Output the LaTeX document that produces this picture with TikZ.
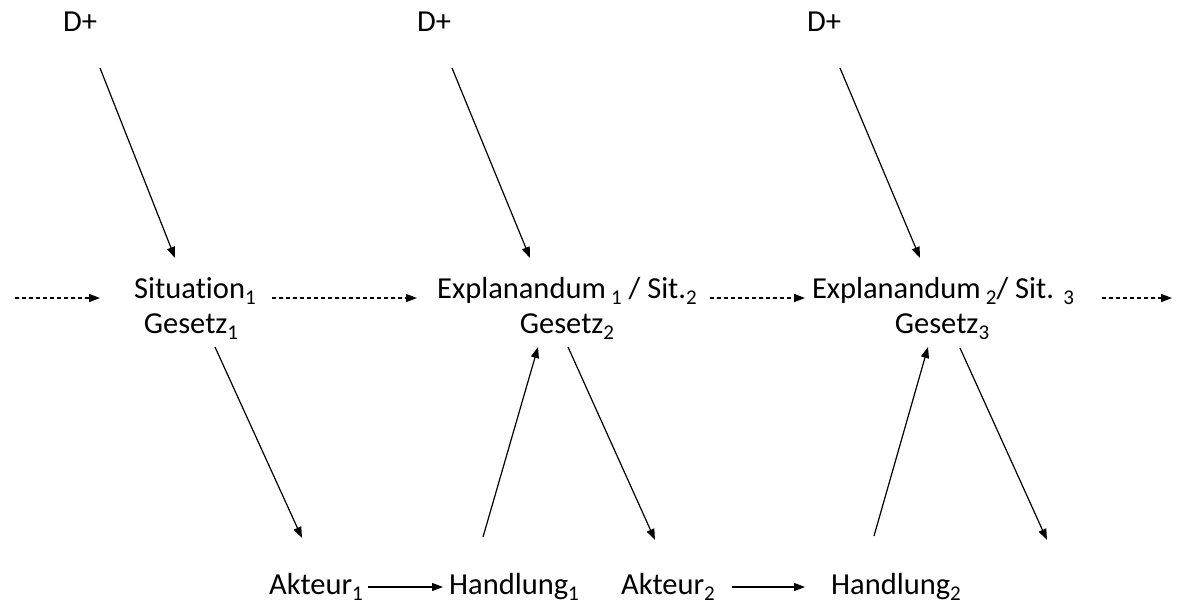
\documentclass[tikz,border=0pt]{standalone}
\usepackage{fontspec}
\setmainfont{Carlito}[Ligatures=NoCommon]
\usetikzlibrary{arrows.meta}
% lowered index digit
\newcommand\idx[1]{\raisebox{-0.2em}{\fontsize{21}{21}\selectfont #1}}
\begin{document}
\begin{tikzpicture}[x=1pt,y=-1pt,
  every node/.style={font=\fontsize{30.5}{36}\selectfont, inner sep=0pt, anchor=base},
  arr/.style={-{Triangle[length=11pt,width=8pt]}, line width=1.2pt},
  dasharr/.style={arr, dash pattern=on 4pt off 3pt}]
\useasboundingbox (0,0) rectangle (1177,608);

% labels
\node (dp1) at (80,31) {D+};
\node (dp2) at (434,31) {D+};
\node (dp3) at (824,31) {D+};
\node (sit1) at (195,298) {Situation\idx{1}};
\node (gz1) at (191,333) {Gesetz\idx{1}};
\node (ex1) at (567,298) {Explanandum\,\idx{1} / Sit.\idx{2}};
\node (gz2) at (567,333) {Gesetz\idx{2}};
\node (ex2) at (943,298) {Explanandum\,\idx{2}/ Sit. \idx{3}};
\node (gz3) at (942,333) {Gesetz\idx{3}};
\node (ak1) at (316,594) {Akteur\idx{1}};
\node (hd1) at (514,594) {Handlung\idx{1}};
\node (ak2) at (668,594) {Akteur\idx{2}};
\node (hd2) at (896,594) {Handlung\idx{2}};

% connector end points
\coordinate (p1s) at (100,68);  \coordinate (p1e) at (175,258);
\coordinate (p2s) at (452,68);  \coordinate (p2e) at (530,258);
\coordinate (p3s) at (840,68);  \coordinate (p3e) at (920,258);
\coordinate (g1s) at (215,347); \coordinate (g1e) at (302,538);
\coordinate (g2s) at (568,347); \coordinate (g2e) at (655,540);
\coordinate (g3s) at (960,348); \coordinate (g3e) at (1047,540);
\coordinate (h1s) at (483,537); \coordinate (h1e) at (538,347);
\coordinate (h2s) at (874,536); \coordinate (h2e) at (928,347);
\coordinate (in)  at (15,298);  \coordinate (inE) at (100,298);
\coordinate (s1s) at (272,298); \coordinate (s1e) at (417,298);
\coordinate (s2s) at (710,298); \coordinate (s2e) at (805,298);
\coordinate (s3s) at (1102,298);\coordinate (out) at (1172,298);
\coordinate (a1s) at (368,587); \coordinate (a1e) at (443,587);
\coordinate (a2s) at (732,587); \coordinate (a2e) at (805,587);

% D+ into each situation
\draw[arr] (p1s) -- (p1e);
\draw[arr] (p2s) -- (p2e);
\draw[arr] (p3s) -- (p3e);
% law to actor, action back to next explanandum
\draw[arr] (g1s) -- (g1e);
\draw[arr] (g2s) -- (g2e);
\draw[arr] (g3s) -- (g3e);
\draw[arr] (h1s) -- (h1e);
\draw[arr] (h2s) -- (h2e);
% sequence of situations
\draw[dasharr] (in) -- (inE);
\draw[dasharr] (s1s) -- (s1e);
\draw[dasharr] (s2s) -- (s2e);
\draw[dasharr] (s3s) -- (out);
% actor to action
\draw[arr] (a1s) -- (a1e);
\draw[arr] (a2s) -- (a2e);
\end{tikzpicture}
\end{document}
